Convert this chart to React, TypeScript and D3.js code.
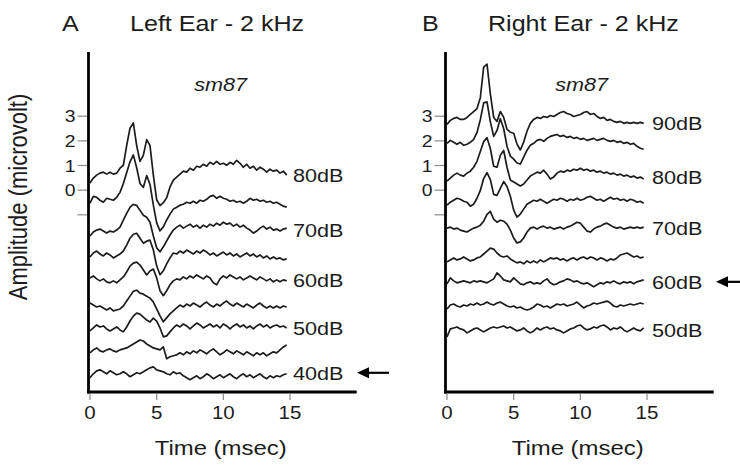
import React from "react";
import * as d3 from "d3";

// ---- time base (msec) ----
const TIME_MS = [0,0.25,0.5,0.75,1,1.25,1.5,1.75,2,2.25,2.5,2.75,3,3.25,3.5,3.75,4,4.25,4.5,4.75,5,5.25,5.5,5.75,6,6.25,6.5,6.75,7,7.25,7.5,7.75,8,8.25,8.5,8.75,9,9.25,9.5,9.75,10,10.25,10.5,10.75,11,11.25,11.5,11.75,12,12.25,12.5,12.75,13,13.25,13.5,13.75,14,14.25,14.5,14.75];

// ---- Left ear waveforms (microvolt, relative to trace baseline) ----
const L80 = [-0.32,-0.12,0,0.08,0.12,0.04,0.12,0.04,0.08,0.28,0.4,1.2,1.9,2.12,1.2,0.56,0.8,1.44,1.2,0,-1.0,-1.24,-1.12,-0.92,-0.48,-0.2,-0.08,0.04,0.16,0.12,0.28,0.2,0.36,0.32,0.44,0.36,0.52,0.44,0.56,0.44,0.48,0.4,0.52,0.44,0.6,0.48,0.32,0.44,0.28,0.36,0.2,0.32,0.24,0.12,0.24,0.16,0.2,0.08,0.16,0];
const L75 = [0,0.28,0.24,0.12,0.04,0.2,0.16,0.12,0.24,0.44,0.8,1.24,1.68,1.96,1.44,0.8,0.64,1.12,0.76,-0.08,-0.8,-1.12,-0.96,-0.68,-0.44,-0.24,-0.16,-0.08,-0.04,0.04,0,0.08,0,0.12,0.08,0.16,0.28,0.32,0.2,0.28,0.2,0.16,0.08,0.12,0.04,0.08,0,0.08,0.2,0.12,0.16,0.08,0.12,0.04,0.08,0,0.04,-0.04,-0.12,-0.16];
const L70 = [-0.24,-0.08,0,0.04,-0.04,-0.12,-0.04,-0.08,0,0.12,0.4,0.68,0.92,1.04,1.0,0.8,0.6,0.52,0.32,-0.24,-0.72,-0.88,-0.68,-0.44,-0.2,0,0.12,0.2,0.08,0.16,0.24,0.12,0.2,0.08,0.2,0.12,0.24,0.16,0.28,0.2,0.32,0.24,0.28,0.16,0.24,0.12,0.2,0.08,0,-0.12,-0.04,0.08,0.16,0.04,0.12,0,0.04,-0.04,0.04,0.08];
const L65 = [-0.08,0.08,0.16,0.04,-0.04,0.08,0,-0.12,-0.04,0.04,0.16,0.4,0.68,0.84,0.88,0.68,0.48,0.56,0.6,0.2,-0.44,-0.8,-0.64,-0.36,-0.12,0.08,0.04,0.16,0.08,0.2,0.12,0.04,0.16,0.08,0.2,0.12,0,0.08,-0.04,0.04,0.12,0,0.08,-0.04,0.04,-0.08,0,0.08,-0.04,0.04,-0.08,0,-0.12,-0.04,-0.16,-0.08,-0.16,-0.12,-0.2,-0.16];
const L60 = [0.08,0.16,0.04,-0.04,0.04,-0.08,-0.12,-0.04,-0.12,0,0.12,0.32,0.56,0.68,0.72,0.6,0.4,0.2,0.36,0.44,0.08,-0.44,-0.64,-0.44,-0.2,-0.04,0.04,0,0.12,0.04,0.16,0.08,0.2,0.12,0.04,0.16,0.08,-0.12,-0.2,0.04,0.16,0.08,0.2,0.12,0.04,0.12,0,0.08,0.16,0.08,0,0.12,0.04,-0.04,0.04,-0.08,0,-0.08,0,-0.04];
const L55 = [0.16,0.08,0,0.04,-0.04,-0.12,-0.04,-0.16,-0.12,-0.08,0.04,0.24,0.44,0.64,0.68,0.56,0.52,0.44,0.36,0.2,-0.08,-0.36,-0.6,-0.44,-0.28,-0.16,-0.04,0.08,0,0.12,0.04,0.16,0.08,0,0.12,0.2,0.08,0,0.12,0.04,0.16,0.24,0.12,0.04,0.16,0.08,0,0.12,0.04,-0.04,0.08,0.16,0.04,-0.04,0.04,-0.04,0.04,-0.04,0.04,0];
const L50 = [-0.12,0,0.12,0.04,0.08,-0.04,-0.12,-0.04,0.04,-0.08,-0.16,0.04,0.28,0.48,0.6,0.56,0.44,0.32,0.24,0.4,0.28,0,-0.36,-0.32,-0.16,0,0.12,0.04,0.16,0.08,-0.04,0.08,0.2,0.12,0,0.08,0.16,0.04,0.12,0,0.16,0.08,-0.04,0.08,0.16,0.04,0.12,0,0.08,-0.04,0.08,0.16,0.04,0.12,0,0.08,0.12,0.04,0.08,0];
const L45 = [-0.12,0,0.08,-0.04,-0.08,0,0.04,-0.04,-0.08,0,0.04,0.08,0.16,0.24,0.32,0.4,0.36,0.24,0.16,0.08,0.04,0,0.12,-0.36,-0.28,-0.24,-0.2,-0.12,-0.2,-0.08,-0.16,-0.04,-0.12,0,-0.08,-0.16,-0.04,0.04,-0.08,-0.2,-0.12,0,-0.08,-0.16,-0.04,-0.12,-0.2,-0.08,-0.16,-0.24,-0.12,-0.2,-0.12,-0.24,-0.16,-0.08,-0.12,0,0.12,0.2];
const L40 = [-0.2,-0.04,0.08,0.12,0.04,-0.04,0.08,0,-0.08,-0.04,0.04,-0.04,-0.16,-0.08,0,-0.04,0.04,0.12,0.2,0.24,0.12,0.08,0.04,-0.04,-0.08,0.04,-0.04,0,-0.12,-0.2,-0.28,-0.2,-0.12,-0.24,-0.16,-0.04,-0.12,-0.24,-0.16,-0.08,-0.2,-0.12,-0.04,-0.16,-0.24,-0.12,-0.04,-0.16,-0.08,-0.2,-0.12,-0.04,-0.16,-0.24,-0.12,-0.2,-0.12,-0.16,-0.08,-0.04];
const LEFT_TRACES = [L80, L75, L70, L65, L60, L55, L50, L45, L40];
const LEFT_OFFSETS = [0.61, -0.53, -1.62, -2.63, -3.64, -4.74, -5.59, -6.48, -7.41];
const LEFT_LABELS = ["80dB", "70dB", "60dB", "50dB", "40dB"];
const LEFT_LABEL_TRACE = [0, 2, 4, 6, 8];
const LEFT_ARROW_TRACE = 8;

// ---- Right ear waveforms ----
const R90 = [-0.04,0.12,0.2,0.24,0.16,0.16,0.24,0.36,0.48,0.6,1.04,2.28,2.4,1.2,0.24,0.08,0.48,0.24,-0.24,-0.36,-0.4,-0.84,-1.08,-0.76,-0.32,0,0.16,0.24,0.2,0.28,0.24,0.32,0.28,0.36,0.44,0.48,0.4,0.36,0.28,0.32,0.36,0.44,0.48,0.36,0.4,0.28,0.2,0.24,0.12,0.16,0.08,0.04,0.08,0,0.04,0,0.04,0,0.04,0];
const R85 = [0.08,0.2,0.12,0.04,0.12,0,0.04,0.12,0.24,0.52,1.04,1.72,1.76,0.96,0.36,0.6,1.08,0.68,-0.04,-0.44,-0.56,-0.72,-0.76,-0.48,-0.2,0,0.08,0.2,0.24,0.16,0.28,0.36,0.4,0.44,0.36,0.4,0.32,0.36,0.28,0.32,0.24,0.28,0.2,0.24,0.28,0.2,0.24,0.28,0.2,0.16,0.2,0.12,0.16,0.08,0.12,0.04,0.08,-0.04,-0.12,-0.16];
const R80 = [-0.16,-0.04,0.08,0.16,0.08,0.04,0.16,0.24,0.4,0.64,1.04,1.44,1.6,1.16,0.44,0.4,0.88,1.08,0.4,-0.12,-0.2,-0.28,-0.36,-0.28,-0.12,0.04,0.12,0.2,0.16,0.28,0.12,-0.08,0,0.16,0.24,0.2,0.28,0.24,0.32,0.28,0.36,0.28,0.32,0.24,0.28,0.2,0.24,0.16,0.2,0.12,0.16,0.08,0.12,0.04,0.08,0,0.04,-0.04,0,-0.08];
const R75 = [-0.12,0,0.08,0.16,0.12,0.04,0,-0.16,-0.08,0.16,0.48,0.96,1.2,0.92,0.32,0.28,0.56,0.84,0.64,0.24,-0.32,-0.6,-0.48,-0.28,-0.08,0,0.08,0.04,0.12,0.04,-0.04,0.04,0.12,0.08,0.16,0.12,0.04,0.12,0.08,0.16,0.08,0.12,0.2,0.24,0.16,0.08,0.12,0.04,0.12,0.2,0.12,0.16,0.08,0.12,0.04,0.12,0.08,0,0.04,-0.04];
const R70 = [0,0.04,-0.04,0,-0.08,-0.12,-0.16,-0.08,0,0.04,0.12,0.28,0.56,0.68,0.36,0.24,0.32,0.28,0.16,-0.08,-0.4,-0.6,-0.56,-0.4,-0.16,0,0.04,-0.04,0.04,0.08,0,0.04,-0.04,0,0.04,-0.04,0.04,0.08,0.16,0.24,0.2,0.04,-0.12,-0.16,-0.04,0.04,0.08,0.16,0.2,0.12,0.04,0,0.04,-0.04,0,0.04,0,0.04,0,0.04];
const R65 = [-0.12,-0.04,0.04,-0.04,0,0.08,0,-0.08,-0.04,0.04,0.08,0.2,0.32,0.44,0.4,0.24,0.12,0.08,0.12,0,-0.08,-0.16,-0.12,-0.2,-0.08,-0.16,-0.08,-0.16,-0.04,-0.12,-0.04,0.04,0,0.04,-0.04,0,-0.08,0,0.04,-0.04,0.04,0.08,0,0.08,0.04,-0.04,0.04,0,-0.08,0,-0.04,0.04,0.16,0.2,0.24,0.16,0.08,0.12,0.04,0.08];
const R60 = [-0.08,0.16,0.04,-0.04,0,0.04,0,-0.04,0.04,0,0.04,0,-0.04,0.04,0.12,0.36,0.24,0.08,0.04,0,0.16,0.04,-0.08,-0.12,-0.04,0,-0.08,-0.04,-0.08,0.04,0.12,-0.04,-0.12,-0.08,0,0.04,0.12,0.08,0,0.04,-0.04,-0.08,-0.04,-0.12,-0.2,-0.12,-0.04,-0.08,0,-0.04,0.04,-0.04,-0.08,0,-0.04,0,-0.08,0,0.04,0.08];
const R55 = [-0.12,0.04,0.08,0,-0.04,0.04,0,0.08,0.04,0.12,0.04,0.08,0.16,0.08,0.04,0.12,0.16,0.08,0,-0.04,0,-0.08,-0.04,-0.12,-0.16,-0.12,-0.04,0.08,0.04,-0.04,0,-0.08,0,0.08,0.04,0.08,0,0.04,0.08,0.16,0.04,-0.08,0,0.04,0.12,0.08,0.12,0.16,0.2,0.12,0,-0.04,0.04,0,0.04,0.08,0.04,0.08,0.12,0.08];
const R50 = [-0.28,0.04,0.08,0.12,0.04,0,-0.12,-0.04,0.04,0.08,0,-0.08,0,0.08,0.12,0.08,0.12,0.16,0.08,0.12,0.04,-0.04,0,0.08,-0.04,-0.12,-0.04,0.08,0,0.08,0.12,0.04,0.08,0,-0.04,-0.12,-0.04,0.04,0.08,0.16,0.2,0.08,0,0.04,0.12,0.08,0.16,0.2,0.12,0,0.08,0.04,0.12,0,-0.08,0,0.08,0,-0.04,0.08];
const RIGHT_TRACES = [R90, R85, R80, R75, R70, R65, R60, R55, R50];
const RIGHT_OFFSETS = [2.71, 1.82, 0.53, -0.49, -1.54, -2.79, -3.72, -4.70, -5.67];
const RIGHT_LABELS = ["90dB", "80dB", "70dB", "60dB", "50dB"];
const RIGHT_LABEL_TRACE = [0, 2, 4, 6, 8];
const RIGHT_ARROW_TRACE = 6;

// ---- axes ----
const Y_TICKS = [3, 2, 1, 0, -1];
const Y_TICK_LABELS = ["3", "2", "1", "0", ""];
const X_TICKS = [0, 5, 10, 15];

const W = 740;
const H = 466;
const FONT = "'Liberation Sans', Arial, Helvetica, sans-serif";
const INK = "#1c1c1c";
const SX = 1.14; // horizontal stretch of the reference lettering

const yScale = d3.scaleLinear().domain([-1, 3]).range([214.8, 116.2]);

function SText(props: {
  x: number; y: number; size: number; anchor?: string; italic?: boolean; children: any;
}) {
  const { x, y, size, anchor = "start", italic = false, children } = props;
  return (
    <text
      transform={`translate(${x},${y}) scale(${SX},1)`}
      fontSize={size}
      fontFamily={FONT}
      fontStyle={italic ? "italic" : "normal"}
      textAnchor={anchor}
      fill={INK}
    >
      {children}
    </text>
  );
}

function Panel(props: {
  x0: number; x1: number; letter: string; letterX: number; title: string; titleX: number;
  traces: number[][]; offsets: number[]; labels: string[]; labelTrace: number[];
  labelX: number; arrowTrace: number; showYTitle: boolean; tagX: number;
}) {
  const { x0, x1, letter, letterX, title, titleX, traces, offsets, labels, labelTrace, labelX, arrowTrace, showYTitle, tagX } = props;
  const x = d3.scaleLinear().domain([0, 20]).range([x0, x1]);
  const axisX = x(0) - 1.5;
  const axisTop = 52;
  const axisBottom = 392;
  const arrowY = yScale(offsets[arrowTrace]);
  const headX = labelX + 64;
  return (
    <g>
      <SText x={letterX} y={31} size={22}>{letter}</SText>
      <SText x={titleX} y={31} size={22}>{title}</SText>
      <SText x={x(tagX)} y={91} size={19} anchor="middle" italic>sm87</SText>

      {/* traces */}
      {traces.map((tr, k) => {
        const line = d3
          .line<number>()
          .x((_, i) => x(TIME_MS[i]))
          .y((v) => yScale(offsets[k] + v))
          .curve(d3.curveLinear);
        return (
          <path key={k} d={line(tr) || ""} fill="none" stroke={INK} strokeWidth={1.7} strokeLinejoin="round" />
        );
      })}

      {/* level labels */}
      {labels.map((lb, j) => (
        <SText key={lb} x={labelX} y={yScale(offsets[labelTrace[j]]) + 7} size={19}>{lb}</SText>
      ))}

      {/* arrow */}
      <line x1={headX + 8} y1={arrowY} x2={headX + 32} y2={arrowY} stroke="#000" strokeWidth={2.2} />
      <path d={`M${headX},${arrowY} L${headX + 12},${arrowY - 5.5} L${headX + 12},${arrowY + 5.5} Z`} fill="#000" />

      {/* y axis */}
      {Y_TICKS.map((t, i) => (
        <g key={t}>
          <line x1={axisX - 11} x2={axisX} y1={yScale(t)} y2={yScale(t)} stroke="#8a8a8a" strokeWidth={1.2} />
          {Y_TICK_LABELS[i] && (
            <SText x={axisX - 13} y={yScale(t) + 6} size={17} anchor="end">{Y_TICK_LABELS[i]}</SText>
          )}
        </g>
      ))}
      <line x1={axisX} x2={axisX} y1={axisTop} y2={axisBottom + 1.4} stroke="#000" strokeWidth={2.8} />
      <line x1={axisX - 1.4} x2={x1} y1={axisBottom} y2={axisBottom} stroke="#000" strokeWidth={2.8} />

      {/* x axis */}
      {X_TICKS.map((t) => (
        <g key={t}>
          <line x1={x(t)} x2={x(t)} y1={axisBottom + 1.4} y2={axisBottom + 8} stroke="#8a8a8a" strokeWidth={1.2} />
          <SText x={x(t)} y={419} size={18} anchor="middle">{String(t)}</SText>
        </g>
      ))}
      <SText x={x(9.8)} y={455} size={21} anchor="middle">Time (msec)</SText>

      {showYTitle && (
        <text
          transform={`translate(27,197) rotate(-90) scale(1,${SX})`}
          fontSize={22}
          fontFamily={FONT}
          textAnchor="middle"
          fill={INK}
        >
          Amplitude (microvolt)
        </text>
      )}
    </g>
  );
}

export default function App() {
  return (
    <svg
      width={W}
      height={H}
      viewBox={`0 0 ${W} ${H}`}
      style={{ position: "absolute", left: 0, top: 0, background: "#fff" }}
    >
      <rect width={W} height={H} fill="#fff" />
      <Panel
        x0={90} x1={356.7} letter="A" letterX={62} title="Left Ear - 2 kHz" titleX={130}
        traces={LEFT_TRACES} offsets={LEFT_OFFSETS} labels={LEFT_LABELS} labelTrace={LEFT_LABEL_TRACE}
        labelX={293} arrowTrace={LEFT_ARROW_TRACE} showYTitle={true} tagX={9.8}
      />
      <Panel
        x0={447} x1={713.7} letter="B" letterX={422} title="Right Ear - 2 kHz" titleX={488}
        traces={RIGHT_TRACES} offsets={RIGHT_OFFSETS} labels={RIGHT_LABELS} labelTrace={RIGHT_LABEL_TRACE}
        labelX={652} arrowTrace={RIGHT_ARROW_TRACE} showYTitle={false} tagX={10.1}
      />
    </svg>
  );
}
